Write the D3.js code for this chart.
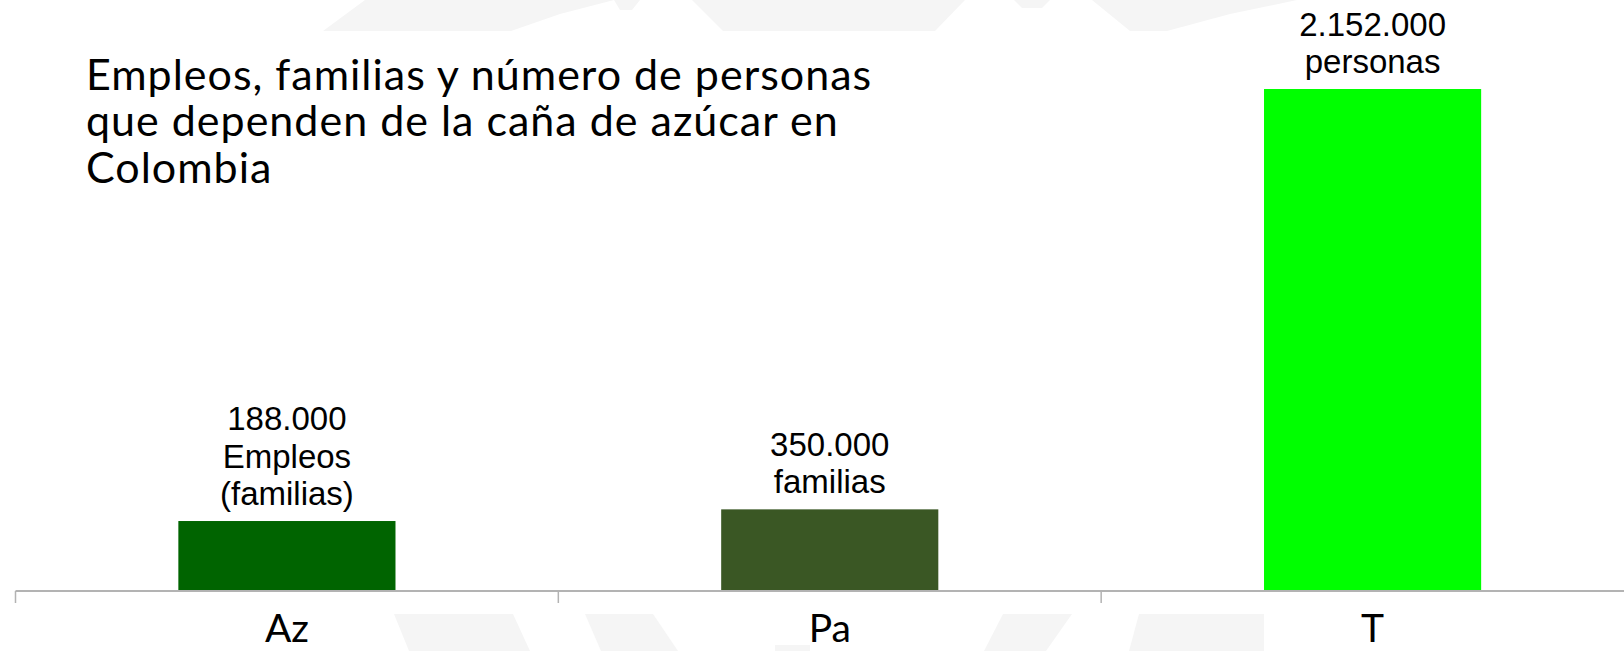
<!DOCTYPE html>
<html>
<head>
<meta charset="utf-8">
<script src="https://cdn.jsdelivr.net/npm/d3@7"></script>
<style>
  html, body { margin: 0; padding: 0; background: #ffffff; }
  svg { display: block; }
</style>
</head>
<body>
<svg id="chart" width="1624" height="651"></svg>
<script>
// ---- data ----
const categories = ["Az", "Pa", "T"];
const values = [300000, 350000, 2152000];
const barLabels = [
  ["188.000", "Empleos", "(familias)"],
  ["350.000", "familias"],
  ["2.152.000", "personas"]
];
const colors = ["#006400", "#3a5724", "#00ff00"];
const titleLines = [
  "Empleos, familias y número de personas",
  "que dependen de la caña de azúcar en",
  "Colombia"
];

// ---- layout ----
const W = 1624, H = 651;
const baseY = 591, left = 15.5, right = 1644;
const svg = d3.select("#chart");

// faint watermark decoration
const wm = svg.append("g").attr("fill", "#f5f5f5");
const wmShapes = [
  [[323,31],[365,0],[614,0],[560,14],[511,31]],
  [[614,0],[640,0],[632,10],[620,10]],
  [[692,0],[965,0],[935,31],[723,31]],
  [[1014,0],[1050,0],[1042,8],[1022,8]],
  [[1092,0],[1297,0],[1230,14],[1167,31],[1130,31]],
  [[394,614],[513,614],[530,651],[409,651]],
  [[585,614],[653,614],[678,651],[601,651]],
  [[775,645],[810,645],[810,651],[775,651]],
  [[1003,614],[1072,614],[1046,651],[984,651]],
  [[1139,614],[1264,614],[1264,651],[1129,651]]
];
wmShapes.forEach(p => wm.append("path").attr("d", d3.line()(p) + "Z"));

const x = d3.scaleBand().domain(categories).range([left, right])
  .paddingInner(0.6).paddingOuter(0.3);
const y = d3.scaleLinear().domain([0, 2152000]).range([baseY, 89]);

// bars
svg.append("g").selectAll("rect").data(categories).join("rect")
  .attr("x", d => x(d))
  .attr("y", (d, i) => y(values[i]))
  .attr("width", x.bandwidth())
  .attr("height", (d, i) => baseY - y(values[i]))
  .attr("fill", (d, i) => colors[i]);

// axis line and ticks at band boundaries
const ax = svg.append("g");
ax.append("line").attr("x1", left).attr("x2", W).attr("y1", baseY).attr("y2", baseY)
  .attr("stroke", "#b3b3b3").attr("stroke-width", 2);
const step = x.step();
d3.range(categories.length + 1).forEach(i => {
  const tx = left + i * step;
  ax.append("line").attr("x1", tx).attr("x2", tx).attr("y1", baseY).attr("y2", baseY + 12)
    .attr("stroke", "#b3b3b3").attr("stroke-width", 1.5);
});

// category labels
svg.append("g").selectAll("text").data(categories).join("text")
  .attr("x", d => x(d) + x.bandwidth() / 2)
  .attr("y", 642)
  .attr("text-anchor", "middle")
  .attr("font-family", "Lato")
  .attr("font-size", 39)
  .attr("fill", "#000")
  .text(d => d);

// value labels
const lineH = 37.5;
categories.forEach((c, i) => {
  const lines = barLabels[i];
  const lastBase = y(values[i]) - 16;
  const t = svg.append("text")
    .attr("text-anchor", "middle")
    .attr("font-family", "Liberation Sans")
    .attr("font-size", 33)
    .attr("fill", "#000");
  lines.forEach((ln, j) => {
    t.append("tspan")
      .attr("x", x(c) + x.bandwidth() / 2)
      .attr("y", lastBase - (lines.length - 1 - j) * lineH)
      .text(ln);
  });
});

// title
const titleBase = [89.5, 136, 182.5];
const tt = svg.append("text")
  .attr("font-family", "Lato")
  .attr("font-size", 43)
  .attr("letter-spacing", 1)
  .attr("fill", "#000");
titleLines.forEach((ln, j) => {
  tt.append("tspan").attr("x", 86).attr("y", titleBase[j]).text(ln);
});
</script>
</body>
</html>
